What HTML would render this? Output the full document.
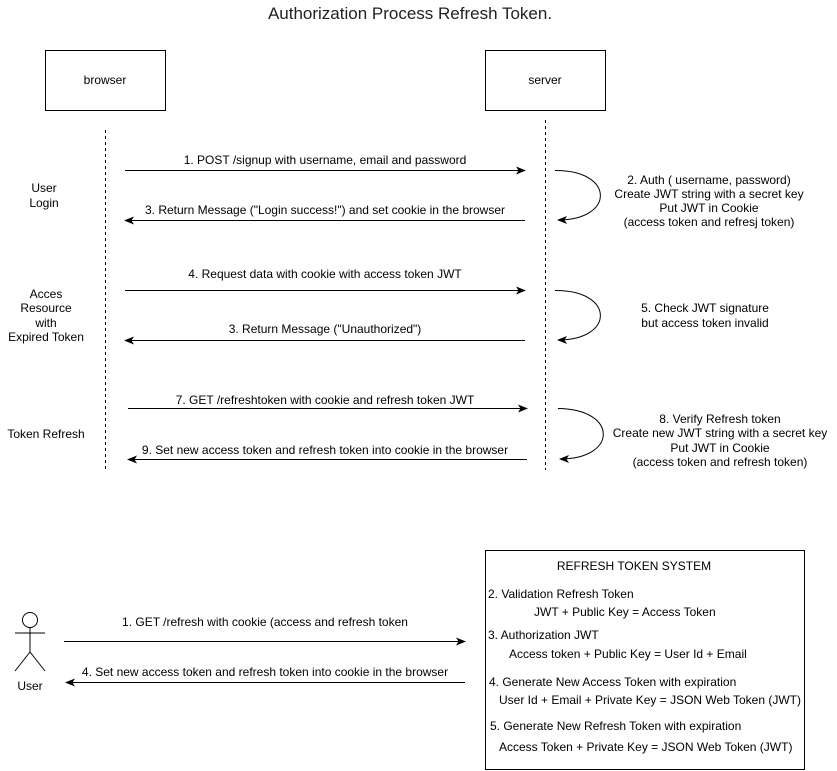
<!DOCTYPE html>
<html><head><style>body{margin:0;background:#fff}svg{display:block}text{font-family:"Liberation Sans",sans-serif;font-size:12px;fill:#000}</style></head><body>
<svg width="837" height="771" viewBox="0 0 837 771">
<defs><marker id="a" markerWidth="10" markerHeight="8" refX="9" refY="4" orient="auto" markerUnits="userSpaceOnUse"><path d="M0,0 L10,4 L0,8 L2.5,4 Z" fill="#000"/></marker></defs>
<text x="410" y="19" text-anchor="middle" style="font-size:17px;fill:#222">Authorization Process Refresh Token.</text>
<rect x="45.5" y="50.5" width="120" height="60" fill="#fff" stroke="#000"/>
<text x="105" y="84" text-anchor="middle">browser</text>
<rect x="485.5" y="50.5" width="120" height="60" fill="#fff" stroke="#000"/>
<text x="545" y="84" text-anchor="middle">server</text>
<line x1="105.5" y1="130" x2="105.5" y2="470" stroke="#000" stroke-dasharray="3,3"/>
<line x1="545.5" y1="120" x2="545.5" y2="470" stroke="#000" stroke-dasharray="3,3"/>
<g stroke="#000" fill="none" marker-end="url(#a)">
<line x1="125" y1="170.5" x2="525" y2="170.5"/>
<line x1="525" y1="220.5" x2="125" y2="220.5"/>
<path d="M555 170.5 C615 170 615 220 558 220"/>
<line x1="125" y1="290.5" x2="525" y2="290.5"/>
<line x1="525" y1="340.5" x2="125" y2="340.5"/>
<path d="M555 290.5 C615 290 615 340 558 340"/>
<line x1="128" y1="408.5" x2="527" y2="408.5"/>
<line x1="527" y1="459.5" x2="128" y2="459.5"/>
<path d="M558 408.5 C618 409 618 459 560 459"/>
<line x1="64" y1="641.5" x2="465" y2="641.5"/>
<line x1="465" y1="682.5" x2="66" y2="682.5"/>
</g>
<g text-anchor="middle">
<text x="325" y="164">1. POST  /signup with username, email and password</text>
<text x="325" y="214">3. Return Message ("Login success!") and set cookie in the browser</text>
<text x="709" y="184">2. Auth ( username, password)</text>
<text x="709" y="198">Create JWT string with a secret key</text>
<text x="709" y="212">Put JWT in Cookie</text>
<text x="709" y="226">(access token and refresj token)</text>
<text x="44" y="192">User</text>
<text x="44" y="207">Login</text>
<text x="325" y="278">4. Request data with cookie with access token JWT</text>
<text x="325" y="333">3. Return Message ("Unauthorized")</text>
<text x="705" y="312">5. Check JWT signature</text>
<text x="705" y="327">but access token invalid</text>
<text x="46" y="298">Acces</text>
<text x="46" y="312">Resource</text>
<text x="46" y="327">with</text>
<text x="46" y="341">Expired Token</text>
<text x="325" y="404">7. GET /refreshtoken with cookie and refresh token JWT</text>
<text x="325" y="454">9.  Set new access token and refresh token into cookie in the browser</text>
<text x="720" y="423">8. Verify Refresh token</text>
<text x="720" y="437">Create new JWT string with a secret key</text>
<text x="720" y="452">Put JWT in Cookie</text>
<text x="720" y="466">(access token and refresh token)</text>
<text x="46" y="438">Token Refresh</text>
<text x="265" y="626">1. GET /refresh with cookie (access and refresh token</text>
<text x="265" y="676">4. Set new access token and refresh token into cookie in the browser</text>
<text x="30" y="690">User</text>
</g>
<g stroke="#000" fill="none">
<circle cx="30" cy="620" r="7.5" fill="#fff"/>
<line x1="30" y1="628" x2="30" y2="652"/>
<line x1="15" y1="633" x2="45" y2="633"/>
<line x1="30" y1="652" x2="15" y2="671"/>
<line x1="30" y1="652" x2="45" y2="671"/>
</g>
<rect x="485.5" y="550.5" width="319" height="219" fill="none" stroke="#000"/>
<text x="634" y="570" text-anchor="middle">REFRESH TOKEN SYSTEM</text>
<text x="488" y="598">2. Validation Refresh Token</text>
<text x="534" y="616">JWT + Public Key = Access Token</text>
<text x="488" y="639">3. Authorization JWT</text>
<text x="509" y="658">Access token + Public Key = User Id + Email</text>
<text x="489" y="686">4. Generate New Access Token with expiration</text>
<text x="499" y="704">User Id + Email + Private Key = JSON Web Token (JWT)</text>
<text x="490" y="730">5. Generate New Refresh Token with expiration</text>
<text x="499" y="751">Access Token + Private Key = JSON Web Token (JWT)</text>
</svg>
</body></html>
